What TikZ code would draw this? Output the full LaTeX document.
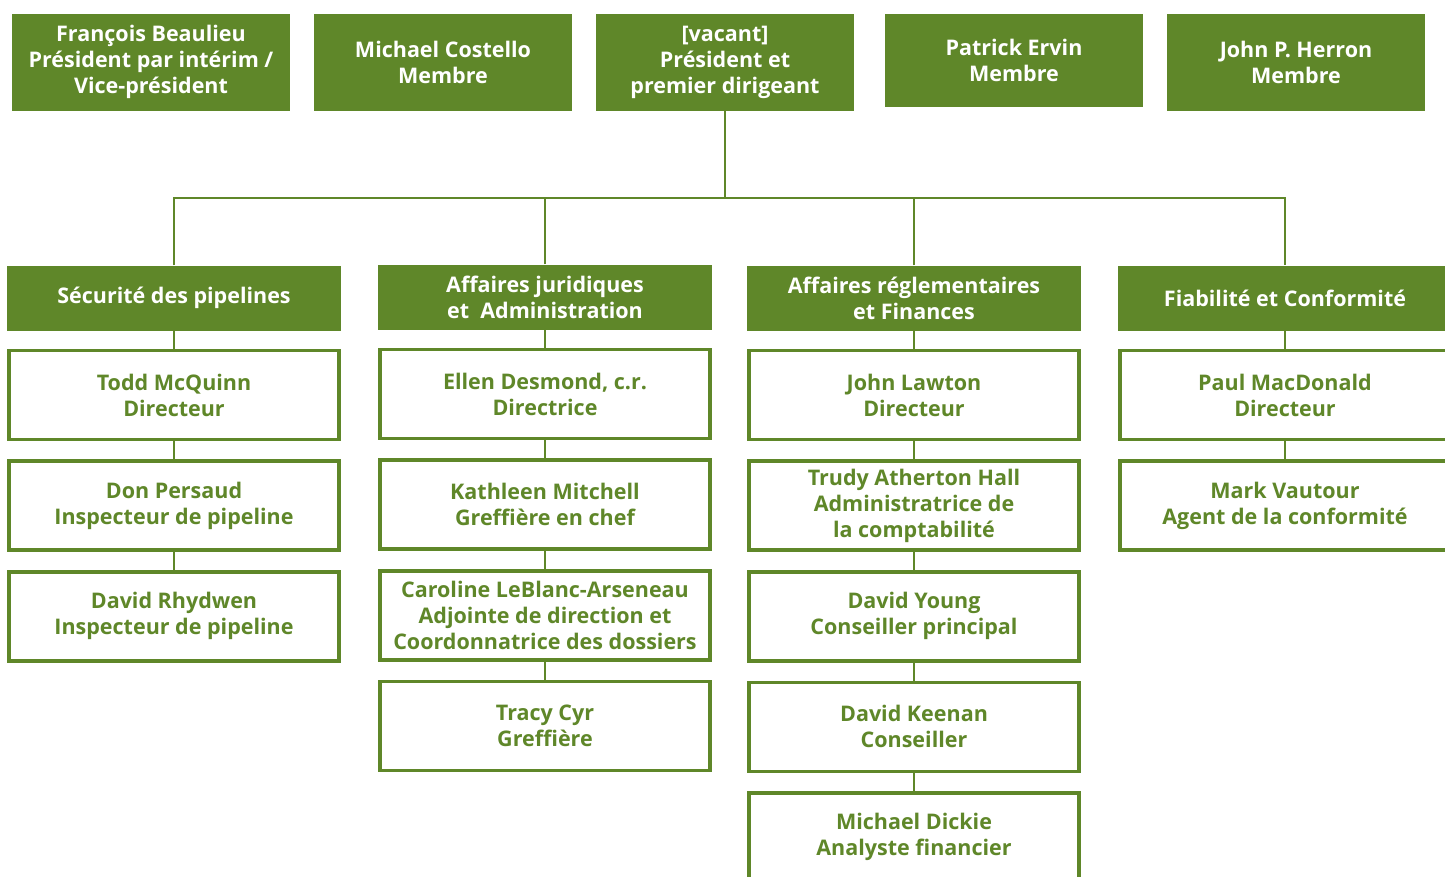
\documentclass[tikz,border=0pt]{standalone}
\usepackage{fontspec}
\setmainfont{Open Sans}
\usetikzlibrary{positioning}
\definecolor{ogreen}{RGB}{95,135,41}

\begin{document}
\begin{tikzpicture}[x=1pt, y=-1pt, node distance=18pt,
  top/.style = {fill=ogreen, text=white, align=center, minimum width=258, minimum height=97,
    inner sep=0pt, font=\bfseries\fontsize{21.5}{26}\selectfont},
  dept/.style = {fill=ogreen, text=white, align=center, minimum width=334, minimum height=65,
    inner sep=0pt, font=\bfseries\fontsize{21.5}{26}\selectfont},
  person/.style = {draw=ogreen, line width=3.6pt, fill=white, text=ogreen, align=center,
    minimum width=330, minimum height=89, inner sep=0pt, font=\bfseries\fontsize{21.5}{26}\selectfont},
  link/.style = {draw=ogreen, line width=2pt}]
  \clip (0,0) rectangle (1445,876);
  \fill[white] (0,0) rectangle (1445,876);
  % conseil
  \node[top, minimum width=278] (t1) at (151,62) {François Beaulieu\\Président par intérim /\\Vice-président};
  \node[top] (t2) at (443,62) {Michael Costello\\Membre};
  \node[top] (t3) at (725,62) {[vacant]\\Président et\\premier dirigeant};
  \node[top, minimum height=93] (t4) at (1014,60) {Patrick Ervin\\Membre};
  \node[top] (t5) at (1296,62) {John P. Herron\\Membre};
  % secteurs
  \node[dept] (d1) at (174,298) {Sécurité des pipelines};
  \node[dept] (d2) at (545,297) {Affaires juridiques\\et~ Administration};
  \node[dept] (d3) at (914,298) {Affaires réglementaires\\et Finances};
  \node[dept] (d4) at (1285,298) {Fiabilité et Conformité};
  \coordinate (bus) at (725,198);
  \draw[link] (t3.south) -- (bus);
  \draw[link] (d1.north) |- (bus) -| (d4.north);
  \draw[link] (d2.north) -- (d2.north |- bus);
  \draw[link] (d3.north) -- (d3.north |- bus);
  % Sécurité des pipelines
  \node[person] (p11) [below=of d1] {Todd McQuinn\\Directeur};
  \node[person] (p12) [below=of p11] {Don Persaud\\Inspecteur de pipeline};
  \node[person] (p13) [below=of p12] {David Rhydwen\\Inspecteur de pipeline};
  % Affaires juridiques
  \node[person] (p21) [below=of d2] {Ellen Desmond, c.r.\\Directrice};
  \node[person] (p22) [below=of p21] {Kathleen Mitchell\\Greffière en chef};
  \node[person] (p23) [below=of p22] {Caroline LeBlanc-Arseneau\\Adjointe de direction et\\Coordonnatrice des dossiers};
  \node[person] (p24) [below=of p23] {Tracy Cyr\\Greffière};
  % Affaires réglementaires
  \node[person] (p31) [below=of d3] {John Lawton\\Directeur};
  \node[person] (p32) [below=of p31] {Trudy Atherton Hall\\Administratrice de\\la comptabilité};
  \node[person] (p33) [below=of p32] {David Young\\Conseiller principal};
  \node[person] (p34) [below=of p33] {David Keenan\\Conseiller};
  \node[person] (p35) [below=of p34] {Michael Dickie\\Analyste financier};
  % Fiabilité
  \node[person] (p41) [below=of d4] {Paul MacDonald\\Directeur};
  \node[person] (p42) [below=of p41] {Mark Vautour\\Agent de la conformité};
  \draw[link] (d1) -- (p11) (p11) -- (p12) (p12) -- (p13);
  \draw[link] (d2) -- (p21) (p21) -- (p22) (p22) -- (p23) (p23) -- (p24);
  \draw[link] (d3) -- (p31) (p31) -- (p32) (p32) -- (p33) (p33) -- (p34) (p34) -- (p35);
  \draw[link] (d4) -- (p41) (p41) -- (p42);
\end{tikzpicture}
\end{document}
